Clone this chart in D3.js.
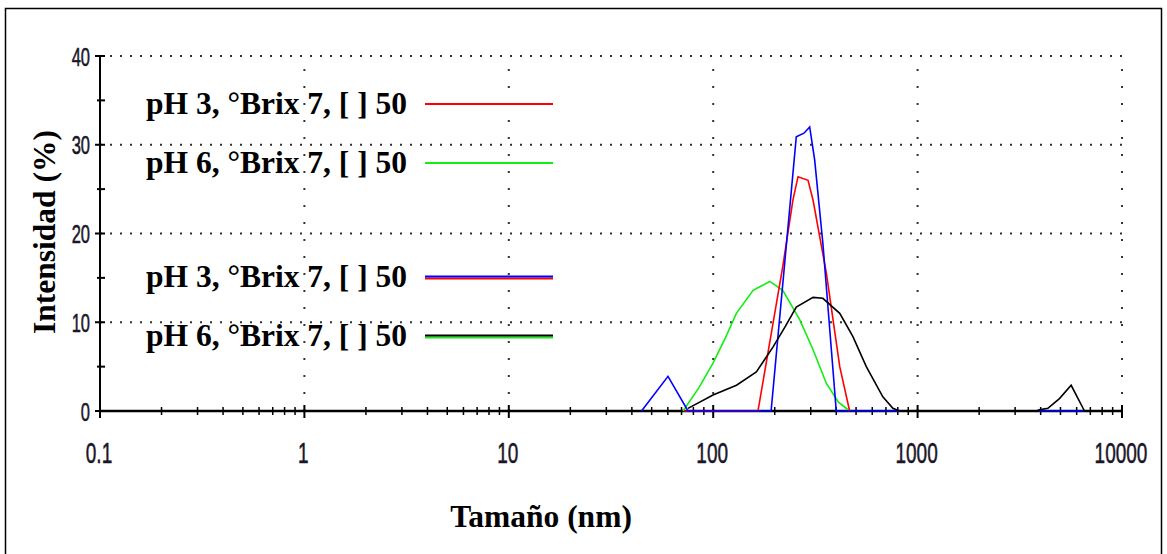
<!DOCTYPE html>
<html>
<head>
    <meta charset="utf-8">
    <script src="https://d3js.org/d3.v7.min.js"></script>
    <style>
        body { margin: 0; padding: 0; background: #fff; }
        .ttl { font-family: "Liberation Serif", "Times New Roman", serif; font-weight: bold; font-size: 31.5px; fill: #000; }
        .tk { font-family: "Liberation Sans", Arial, sans-serif; fill: #1a1628; stroke: #1a1628; stroke-width: 0.35; }
    </style>
</head>
<body>
<svg width="1167" height="554"></svg>
<script>
// tick labels
const xTicks = [0.1, 1, 10, 100, 1000, 10000];
const xTickLabels = ["0.1", "1", "10", "100", "1000", "10000"];
const yTicks = [0, 10, 20, 30, 40];

// series: size (nm) and intensity (%); null marks a gap
const redSize  = [72, 78, 165.6, 219, 245.6, 260, 291, 307.7, 358, 416, 465];
const redValue = [0, 0, 0, 16.3, 23.8, 26.4, 26.0, 23.8, 15.5, 5.0, 0];

const greenSize  = [71.2, 85, 99.8, 115, 129.8, 156.8, 189, 219, 265, 308, 358, 410, 465];
const greenValue = [0, 2.6, 5.4, 8.3, 11.0, 13.6, 14.6, 13.6, 10.3, 6.9, 3.1, 1.0, 0];

const blueSize  = [44.6, 60.1, 75.3, 192, 255, 278, 296.5, 313.6, 344, 400, 817, null, 3900, 6500];
const blueValue = [0, 3.9, 0, 0, 30.9, 31.3, 32.0, 28.3, 18.9, 0, 0, null, 0, 0];

const blackSize  = [75.3, 99.8, 130, 162.6, 196, 225, 255, 308, 344, 416, 482, 561, 676, 757, 817, null, 3873, 4339, 4943, 5639, 6554];
const blackValue = [0.3, 1.8, 2.9, 4.4, 7.2, 9.5, 11.7, 12.8, 12.7, 11.0, 8.4, 5.0, 1.6, 0.3, 0, null, 0.1, 0.3, 1.4, 2.9, 0];

const legendLabels = ["pH 3, °Brix 7, [ ] 50", "pH 6, °Brix 7, [ ] 50", "pH 3, °Brix 7, [ ] 50", "pH 6, °Brix 7, [ ] 50"];

const svg = d3.select("svg");

// outer frame
svg.append("path")
    .attr("d", "M5.5,554 V8.5 H1161.5 V554")
    .attr("fill", "none").attr("stroke", "#000").attr("stroke-width", 1.5);

const x = d3.scaleLog().domain([0.1, 10000]).range([100, 1122]);
const y = d3.scaleLinear().domain([0, 40]).range([411, 56]);

// dotted grid
const grid = svg.append("g").attr("stroke", "#333").attr("stroke-width", 2);
grid.selectAll("line.h").data(yTicks.slice(1)).enter().append("line")
    .attr("x1", x(0.1)).attr("x2", x(10000))
    .attr("y1", d => y(d)).attr("y2", d => y(d))
    .attr("stroke-dasharray", "2,8");
grid.selectAll("line.v").data(xTicks.slice(1)).enter().append("line")
    .attr("x1", d => x(d)).attr("x2", d => x(d))
    .attr("y1", y(0)).attr("y2", y(40))
    .attr("stroke-dasharray", "2,15");

// axes
const ax = svg.append("g").attr("stroke", "#000");
ax.append("line").attr("x1", x(0.1)).attr("x2", x(10000)).attr("y1", y(0)).attr("y2", y(0)).attr("stroke-width", 2.5);
ax.append("line").attr("x1", x(0.1)).attr("x2", x(0.1)).attr("y1", y(0)).attr("y2", y(40)).attr("stroke-width", 2);

const minorX = [];
for (let e = -1; e < 4; e++) for (let m = 2; m <= 9; m++) minorX.push(m * Math.pow(10, e));
ax.selectAll("line.mx").data(minorX).enter().append("line")
    .attr("x1", d => x(d)).attr("x2", d => x(d))
    .attr("y1", y(0) - 4).attr("y2", y(0) + 4).attr("stroke-width", 1.5);
ax.selectAll("line.Mx").data(xTicks).enter().append("line")
    .attr("x1", d => x(d)).attr("x2", d => x(d))
    .attr("y1", y(0) - 6).attr("y2", y(0) + 7).attr("stroke-width", 2);
ax.selectAll("line.My").data(yTicks).enter().append("line")
    .attr("x1", x(0.1) - 5).attr("x2", x(0.1) + 5)
    .attr("y1", d => y(d)).attr("y2", d => y(d)).attr("stroke-width", 2);
ax.selectAll("line.my").data([5, 15, 25, 35]).enter().append("line")
    .attr("x1", x(0.1) - 3).attr("x2", x(0.1) + 5)
    .attr("y1", d => y(d)).attr("y2", d => y(d)).attr("stroke-width", 2);

// tick labels (tall, narrow look)
svg.selectAll("text.xl").data(xTicks).enter().append("text")
    .attr("class", "tk")
    .attr("text-anchor", "middle")
    .attr("font-size", 19)
    .attr("transform", d => `translate(${x(d) - 1},${463}) scale(1,1.6)`)
    .text((d, i) => xTickLabels[i]);
svg.selectAll("text.yl").data(yTicks).enter().append("text")
    .attr("class", "tk")
    .attr("text-anchor", "end")
    .attr("font-size", 16.5)
    .attr("transform", d => `translate(${90},${y(d) + 9.5}) scale(1,1.6)`)
    .text(d => d);

// curves
const line = d3.line()
    .defined(d => d[0] !== null && d[1] !== null)
    .x(d => x(d[0])).y(d => y(d[1]));
const series = [
    { s: greenSize, v: greenValue, c: "#11ee11" },
    { s: blueSize, v: blueValue, c: "#0000ff" },
    { s: redSize, v: redValue, c: "#ff0000" },
    { s: blackSize, v: blackValue, c: "#000000" }
];
// blue over red for the red/blue pair
const order = [series[0], series[2], series[1], series[3]];
svg.selectAll("path.curve").data(order).enter().append("path")
    .attr("fill", "none")
    .attr("stroke", d => d.c)
    .attr("stroke-width", 1.6)
    .attr("d", d => line(d.s.map((s, i) => [s, d.v[i]])));

// legend
const legY = [104, 163, 277, 336];
const leg = svg.append("g");
leg.selectAll("text").data(legendLabels).enter().append("text")
    .attr("class", "ttl")
    .attr("x", 146).attr("y", (d, i) => legY[i] + 10)
    .text(d => d);
const legLines = [
    { i: 0, c: "#ff0000", dy: 0 },
    { i: 1, c: "#11ee11", dy: 0 },
    { i: 2, c: "#ff0000", dy: 1.5 },
    { i: 2, c: "#0000ff", dy: -0.5 },
    { i: 3, c: "#11ee11", dy: 1.5 },
    { i: 3, c: "#000000", dy: -0.5 }
];
leg.selectAll("line").data(legLines).enter().append("line")
    .attr("x1", 425).attr("x2", 553)
    .attr("y1", d => legY[d.i] + d.dy).attr("y2", d => legY[d.i] + d.dy)
    .attr("stroke", d => d.c).attr("stroke-width", 2);

// axis titles
svg.append("text").attr("class", "ttl")
    .attr("text-anchor", "middle")
    .attr("x", 541).attr("y", 527)
    .text("Tamaño (nm)");
svg.append("text").attr("class", "ttl")
    .attr("text-anchor", "middle")
    .attr("transform", "translate(55,232) rotate(-90)")
    .text("Intensidad (%)");
</script>
</body>
</html>
